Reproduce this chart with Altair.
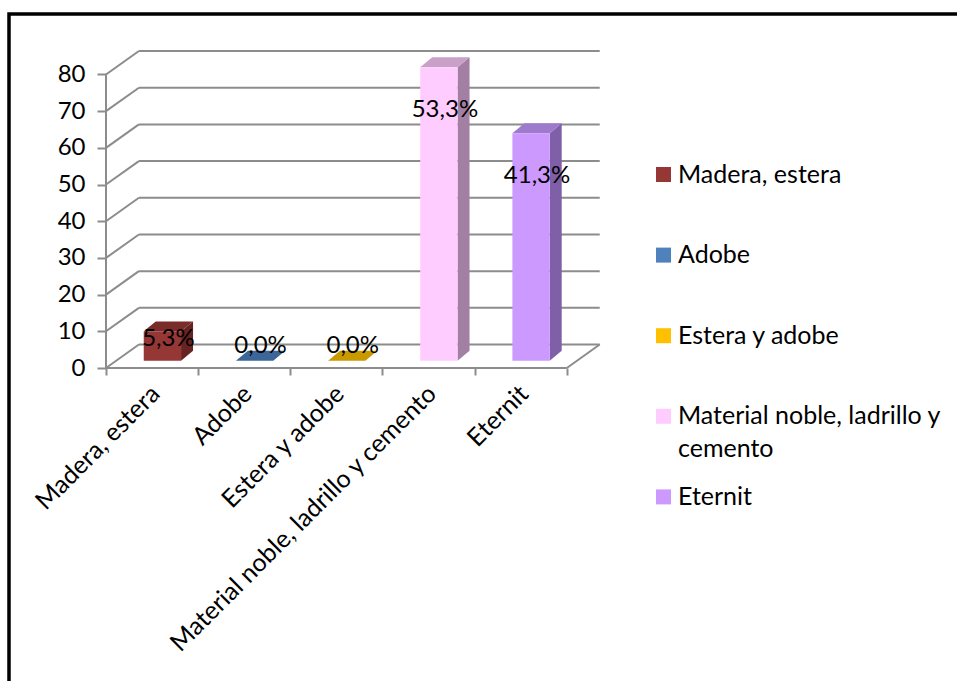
import textwrap

import altair as alt
import pandas as pd

# ---- data -------------------------------------------------------------
categories = [
    "Madera, estera",
    "Adobe",
    "Estera y adobe",
    "Material noble, ladrillo y cemento",
    "Eternit",
]
counts = [8, 0, 0, 80, 62]
y_ticks = [0, 10, 20, 30, 40, 50, 60, 70, 80]

# ---- palette ------------------------------------------------------------
front_colors = ["#953735", "#4F81BD", "#FFC000", "#FFCCFF", "#CC99FF"]
side_colors = ["#662321", "#2F5585", "#B08500", "#A47FA4", "#7F5FA8"]
top_colors = ["#7A2C2A", "#3D6698", "#C99A00", "#C8A0C8", "#9E7ACC"]
GRID = "#8C8C8C"
FONT = "Lato"
FS = 24
FS_CAT = 25

# ---- geometry of the pseudo-3D box (in scale units) ------------------------
PLOT_W, PLOT_H = 494, 317
N = len(categories)
X_MAX = 5.36        # five category slots plus the depth of the box
Y_MAX = 86.4        # 80 on the front plane plus the depth rise of the back wall
DX, DY = 0.357, 6.4  # shift from the front plane to the back wall
HW = 0.2025          # half width of a bar
FX, FY = 0.112, 2.0  # bars stand this far behind the front plane
BX, BY = 0.13, 2.7   # depth of each bar

total = sum(counts)
pct_text = [f"{c / total * 100:.1f}".replace(".", ",") + "%" for c in counts]

# walls and floor
segs = []
for v in y_ticks:
    segs.append(dict(x=0, y=v, x2=DX, y2=v + DY))
    segs.append(dict(x=DX, y=v + DY, x2=N + DX, y2=v + DY))
segs.append(dict(x=0, y=0, x2=N, y2=0))
segs.append(dict(x=N, y=0, x2=N + DX, y2=DY))
segs.append(dict(x=0, y=0, x2=0, y2=max(y_ticks)))
seg_df = pd.DataFrame(segs)

front_rows, side_rows, top_rows, lab_rows, cat_rows = [], [], [], [], []
for i, (cat, c) in enumerate(zip(categories, counts)):
    ctr = i + 0.5
    front_rows.append(dict(cat=cat, x0=ctr - HW + FX, x1=ctr + HW + FX, y0=FY, y1=c + FY))
    side_rows.append(dict(cat=cat, x=ctr + HW + FX, lo=FY, hi=c + FY, col=side_colors[i]))
    side_rows.append(dict(cat=cat, x=ctr + HW + FX + BX, lo=FY + BY, hi=c + FY + BY, col=side_colors[i]))
    top_rows.append(dict(cat=cat, y=c + FY, xl=ctr - HW + FX, xr=ctr + HW + FX, col=top_colors[i]))
    top_rows.append(dict(cat=cat, y=c + FY + BY, xl=ctr - HW + FX + BX, xr=ctr + HW + FX + BX, col=top_colors[i]))
    lab_y = (c - 11.7) if c > 20 else (c * 0.25 + 4)
    lab_rows.append(dict(cat=cat, x=ctr + FX + BX / 2, y=FY + lab_y, t=pct_text[i]))
    cat_rows.append(dict(cat=cat, x=ctr, y=0))

xs = alt.Scale(domain=[0, X_MAX], nice=False, zero=False)
ys = alt.Scale(domain=[0, Y_MAX], nice=False, zero=False)

# the same axis definitions go on every layer so that they merge cleanly
x_axis = alt.Axis(values=list(range(N + 1)), labels=False, domain=False, grid=False,
                  tickSize=7, tickColor=GRID, tickWidth=2, title=None)
y_axis = alt.Axis(values=y_ticks, domain=False, grid=False, tickSize=9, tickColor=GRID,
                  tickWidth=2, labelFont=FONT, labelFontSize=FS, labelColor="black",
                  labelPadding=12, title=None)


def X(field):
    return alt.X(field, scale=xs, axis=x_axis)


def Y(field):
    return alt.Y(field, scale=ys, axis=y_axis)


grid = alt.Chart(seg_df).mark_rule(color=GRID, strokeWidth=2).encode(
    x=X("x:Q"), x2="x2:Q", y=Y("y:Q"), y2="y2:Q",
)

side = alt.Chart(pd.DataFrame(side_rows)).mark_area(interpolate="linear").encode(
    x=X("x:Q"), y=Y("hi:Q"), y2="lo:Q",
    detail="cat:N",
    fill=alt.Fill("col:N", scale=None),
)

top = alt.Chart(pd.DataFrame(top_rows)).mark_area(orient="horizontal", interpolate="linear").encode(
    y=Y("y:Q"), x=X("xl:Q"), x2="xr:Q",
    detail="cat:N",
    fill=alt.Fill("col:N", scale=None),
)

# legend labels wrap like a boxed legend
wrapped = {c: textwrap.wrap(c, 26) for c in categories}
label_expr = "datum.label"
for c, lines in wrapped.items():
    if len(lines) > 1:
        arr = "[" + ", ".join("'" + s + "'" for s in lines) + "]"
        label_expr = f"datum.label == '{c}' ? {arr} : " + label_expr

front = alt.Chart(pd.DataFrame(front_rows)).mark_rect().encode(
    x=X("x0:Q"), x2="x1:Q", y=Y("y0:Q"), y2="y1:Q",
    color=alt.Color(
        "cat:N",
        scale=alt.Scale(domain=categories, range=front_colors),
        legend=alt.Legend(
            title=None, orient="none", legendX=545, legendY=111, padding=0,
            symbolType="square", symbolSize=225, symbolStrokeWidth=0, symbolOpacity=1,
            labelFont=FONT, labelFontSize=FS_CAT, labelColor="black", labelLimit=500,
            labelOffset=2, labelExpr=label_expr, gridAlign="all", rowPadding=21.6,
        ),
    ),
)

labels = alt.Chart(pd.DataFrame(lab_rows)).mark_text(
    font=FONT, fontSize=FS, color="black", baseline="middle", align="center"
).encode(
    x=X("x:Q"), y=Y("y:Q"), text="t:N",
)

cat_labels = alt.Chart(pd.DataFrame(cat_rows)).mark_text(
    font=FONT, fontSize=FS_CAT, color="black", angle=315, align="right", baseline="middle",
    dx=-13, dy=18,
).encode(
    x=X("x:Q"), y=Y("y:Q"), text="cat:N",
)

# outer chart-area border
frame = alt.Chart(pd.DataFrame({"k": [0]})).mark_rect(
    fillOpacity=0, stroke="black", strokeWidth=3.5
).encode(
    x=alt.value(-97), x2=alt.value(PLOT_W + 400),
    y=alt.value(-37), y2=alt.value(PLOT_H + 400),
)

chart = (
    alt.layer(grid, side, top, front, labels, cat_labels, frame)
    .properties(
        width=PLOT_W,
        height=PLOT_H,
        autosize="none",
        padding={"left": 106, "top": 51, "right": 957 - 106 - PLOT_W, "bottom": 681 - 51 - PLOT_H},
        background="white",
    )
    .configure(style={"guide-label": {"lineHeight": 33}})
    .configure_view(stroke=None)
)

chart.save("out.html", embed_options={"renderer": "svg", "actions": False})
